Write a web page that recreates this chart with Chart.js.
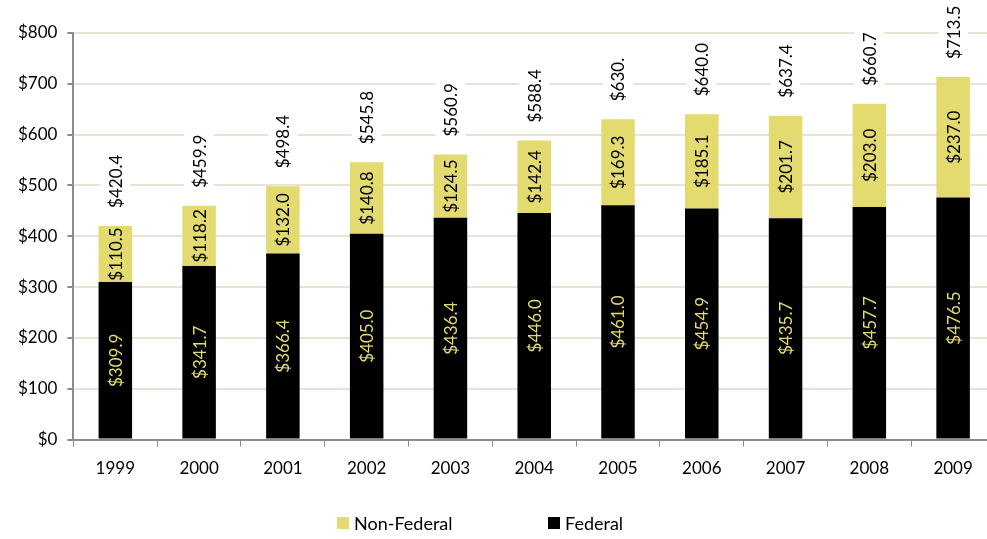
<!DOCTYPE html>
<html>
<head>
<meta charset="utf-8">
<script src="https://cdn.jsdelivr.net/npm/chart.js@4/dist/chart.umd.min.js"></script>
<style>
  html, body { margin: 0; padding: 0; background: #fff; overflow: hidden; }
  #wrap { width: 995px; height: 539px; position: relative; }
</style>
</head>
<body>
<div id="wrap"><canvas id="chart"></canvas></div>
<script>
// valores (US$)
const years = ['1999', '2000', '2001', '2002', '2003', '2004', '2005', '2006', '2007', '2008', '2009'];
const federal = [309.9, 341.7, 366.4, 405.0, 436.4, 446.0, 461.0, 454.9, 435.7, 457.7, 476.5];
const nonFederal = [110.5, 118.2, 132.0, 140.8, 124.5, 142.4, 169.3, 185.1, 201.7, 203.0, 237.0];
const totalLabels = ['$420.4', '$459.9', '$498.4', '$545.8', '$560.9', '$588.4', '$630.', '$640.0', '$637.4', '$660.7', '$713.5'];
const yTicks = [0, 100, 200, 300, 400, 500, 600, 700, 800];

const YELLOW = '#E3DA70';
const FONT = 'Lato, "Liberation Sans", sans-serif';

// rótulos rotacionados dentro das barras + totais acima
const barLabels = {
    id: 'barLabels',
    afterDatasetsDraw(chart) {
        const ctx = chart.ctx;
        ctx.save();
        ctx.font = '17px ' + FONT;
        ctx.textBaseline = 'middle';

        chart.data.datasets.forEach((ds, di) => {
            const meta = chart.getDatasetMeta(di);
            meta.data.forEach((el, i) => {
                const cy = (el.y + el.base) / 2;
                ctx.save();
                ctx.translate(el.x, cy);
                ctx.rotate(-Math.PI / 2);
                ctx.textAlign = 'center';
                ctx.fillStyle = di === 0 ? YELLOW : '#000';
                ctx.fillText('$' + ds.data[i].toFixed(1), 0, 1);
                ctx.restore();
            });
        });

        // totais
        const top = chart.getDatasetMeta(1).data;
        top.forEach((el, i) => {
            const txt = totalLabels[i];
            const w = ctx.measureText(txt).width;
            const start = el.y - 18;
            ctx.save();
            ctx.translate(el.x, start);
            ctx.rotate(-Math.PI / 2);
            ctx.fillStyle = '#fff';
            ctx.fillRect(-4, -15, w + 8, 30);
            ctx.fillStyle = '#000';
            ctx.textAlign = 'left';
            ctx.fillText(txt, 0, 1);
            ctx.restore();
        });
        ctx.restore();
    },
    afterDraw(chart) {
        // legenda (Non-Federal primeiro)
        const ctx = chart.ctx;
        const items = [
            { label: 'Non-Federal', color: YELLOW, x: 337 },
            { label: 'Federal', color: '#000', x: 548 }
        ];
        ctx.save();
        ctx.font = '18px ' + FONT;
        ctx.textBaseline = 'middle';
        items.forEach(it => {
            ctx.fillStyle = it.color;
            ctx.fillRect(it.x, 517, 12, 12);
            ctx.fillStyle = '#000';
            ctx.fillText(it.label, it.x + 17, 524);
        });
        ctx.restore();
    }
};

new Chart(document.getElementById('chart'), {
    type: 'bar',
    data: {
        labels: years,
        datasets: [
            {
                label: 'Federal',
                data: federal,
                backgroundColor: '#000',
                barPercentage: 0.4,
                categoryPercentage: 1.0
            },
            {
                label: 'Non-Federal',
                data: nonFederal,
                backgroundColor: YELLOW,
                barPercentage: 0.4,
                categoryPercentage: 1.0
            }
        ]
    },
    options: {
        responsive: true,
        maintainAspectRatio: false,
        animation: false,
        layout: { padding: { top: 33, right: 0, left: 8, bottom: 48 } },
        plugins: {
            legend: { display: false },
            tooltip: { enabled: false }
        },
        scales: {
            x: {
                stacked: true,
                grid: {
                    display: true,
                    offset: true,
                    drawOnChartArea: false,
                    tickLength: 7,
                    tickColor: '#8C8C8C'
                },
                border: { color: '#8C8C8C', width: 2 },
                ticks: {
                    color: '#000',
                    padding: 12,
                    font: { family: FONT, size: 17 }
                }
            },
            y: {
                stacked: true,
                min: 0,
                max: 800,
                afterBuildTicks(scale) {
                    scale.ticks = yTicks.map(v => ({ value: v }));
                },
                grid: {
                    color: '#E8E3D3',
                    lineWidth: 2,
                    tickLength: 6,
                    tickColor: '#8C8C8C'
                },
                border: { color: '#8C8C8C', width: 2 },
                ticks: {
                    color: '#000',
                    padding: 10,
                    font: { family: FONT, size: 17 },
                    callback: v => '$' + v
                }
            }
        }
    },
    plugins: [barLabels]
});
</script>
</body>
</html>
